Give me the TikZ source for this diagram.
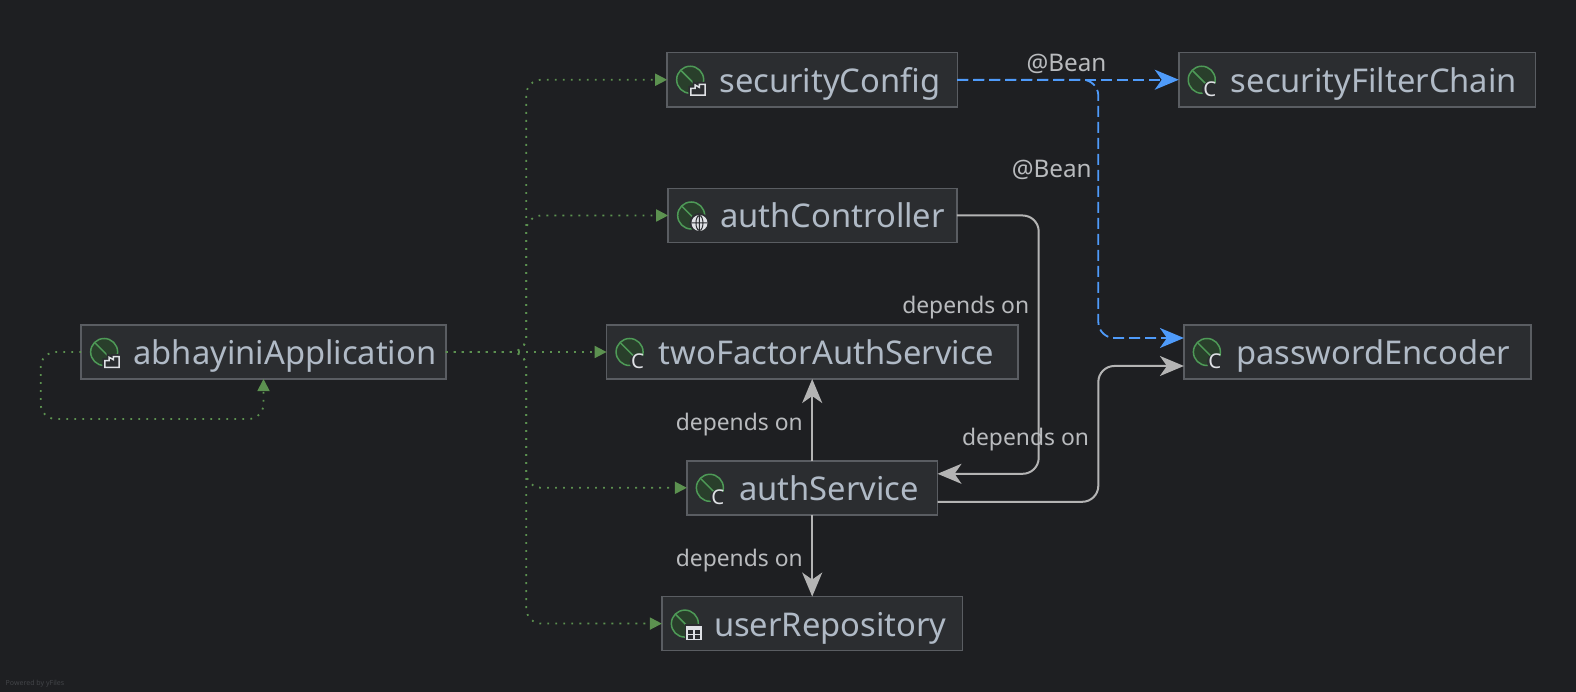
\documentclass[tikz,border=0pt]{standalone}
\usepackage{fontspec}
\setmainfont{Noto Sans}
\usetikzlibrary{arrows.meta,calc}
\definecolor{ideBack}{HTML}{1E1F22}
\definecolor{ideFill}{HTML}{2B2D30}
\definecolor{ideEdge}{HTML}{5A5D62}
\definecolor{ideText}{HTML}{B0BAC6}
\definecolor{ideLabel}{HTML}{B9BBBE}
\definecolor{ideGray}{HTML}{B4B4B4}
\definecolor{ideBlue}{HTML}{4F9BFA}
\definecolor{ideGreen}{HTML}{5C9150}
\definecolor{ideLeaf}{HTML}{4E9A57}
\definecolor{ideLeafIn}{HTML}{293F2B}
\definecolor{ideBadge}{HTML}{DFE1E5}

\begin{document}
\begin{tikzpicture}[
  x=.01cm,y=-.01cm,
  bean/.style={draw=ideEdge, fill=ideFill, line width=.015cm, outer sep=0pt,
               inner sep=0pt, minimum height=.54cm},
  beantext/.style={anchor=west, inner sep=0pt, text=ideText, text height=.26cm,
                   text depth=.07cm, font=\fontsize{9.3}{11}\selectfont},
  edgelabel/.style={inner sep=0pt, text=ideLabel,
                    font=\fontsize{6.5}{8}\selectfont},
  beanlabel/.style={edgelabel, font=\fontsize{6.9}{8}\selectfont},
  depends/.style={-{Stealth[length=.24cm,width=.2cm,inset=.07cm]},
                  draw=ideGray, line width=.02cm, rounded corners=.16cm},
  atbean/.style={-{Stealth[length=.24cm,width=.2cm,inset=.07cm]},
                 draw=ideBlue, line width=.018cm, rounded corners=.16cm,
                 dash pattern=on .11cm off .05cm},
  wires/.style={-{Triangle[length=.12cm,width=.12cm]}, draw=ideGreen,
                line width=.018cm, rounded corners=.15cm,
                dash pattern=on .018cm off .062cm},
  leaf/.style={draw=ideLeaf, fill=ideLeafIn, line width=.015cm},
  badge/.style={draw=ideBadge, fill=ideFill, line width=.015cm,
                preaction={draw=ideFill, line width=.05cm}},
]
  \path[use as bounding box, fill=ideBack] (0,0) rectangle (1576,692);

  % Beans, with the box first and its name beside the icon.
  \node[bean, minimum width=3.645cm] (app) at (263.5,352) {};
  \node[bean, minimum width=2.9cm] (config) at (812.25,79.75) {};
  \node[bean, minimum width=2.885cm] (controller) at (812.5,215.5) {};
  \node[bean, minimum width=4.11cm] (two) at (812.2,352) {};
  \node[bean, minimum width=2.505cm] (service) at (812.2,487.8) {};
  \node[bean, minimum width=3.005cm] (repo) at (812.2,623.6) {};
  \node[bean, minimum width=3.565cm] (chain) at (1357.1,79.75) {};
  \node[bean, minimum width=3.47cm] (encoder) at (1357.5,352) {};

  \foreach \n/\t in {app/abhayiniApplication,config/securityConfig,
      controller/authController,two/twoFactorAuthService,service/authService,
      repo/userRepository,chain/securityFilterChain,encoder/passwordEncoder} {
    \node[beantext] (\n text) at ($(\n.west)+(51.5,3)$) {\t};
    \begin{scope}[shift={($(\n.west)+(23,0)$)}]
      \draw[leaf] (0,0) circle (13.5);
      \draw[draw=ideLeaf, line width=.015cm] (-9,-9) -- (7.3,7.3);
    \end{scope}
  }

  % Badges on the icons.
  \foreach \n in {app,config} {
    \begin{scope}[shift={($(\n.west)+(23,0)$)}]
      \draw[badge] (.7,15.3) -- (.7,8.7) -- (5,8.7) -- (5,5.3) -- (9.3,7.7) --
        (9.3,4.7) -- (15,4.7) -- (15,15.3) -- cycle;
    \end{scope}
  }
  \foreach \n in {two,service,chain,encoder} {
    \begin{scope}[shift={($(\n.west)+(23,0)$)}]
      \fill[ideFill] (8,10) circle (8);
      \node[inner sep=0pt, text=ideBadge, font=\fontsize{5.8}{7}\selectfont]
        (\n badge) at (8,9.5) {C};
    \end{scope}
  }
  \begin{scope}[shift={($(controller.west)+(23,0)$)}]
    \fill[ideFill] (8.3,7.5) circle (10);
    \fill[ideBadge] (8.3,7.5) circle (8);
    \draw[ideFill, line width=.01cm] (8.3,7.5) ellipse (3.5 and 7.5)
      (.3,7.5) -- (16.3,7.5) (8.3,-.5) -- (8.3,15.5);
  \end{scope}
  \begin{scope}[shift={($(repo.west)+(23,0)$)}]
    \draw[badge] (2.3,3.4) rectangle (16,16);
    \fill[ideBadge] (2.3,3.4) rectangle (16,6.4);
    \draw[ideBadge, line width=.012cm] (9.15,6.4) -- (9.15,16) (2.3,10.9) -- (16,10.9);
  \end{scope}

  % Dotted wiring out of the application.
  \coordinate (trunk) at (526.3,352);
  \foreach \n in {config,controller,service,repo} {
    \draw[wires] (app.east) -- (trunk) -- (trunk |- \n.west) -- (\n.west);
  }
  \draw[wires] (app.east) -- (two.west);
  \coordinate (loop) at (40.7,419);
  \draw[wires] (app.west) -- (loop |- app.west) -- (loop) -- (loop -| app.south)
    -- (app.south);

  % Beans declared by the config.
  \coordinate (beanleg) at (1098.3,352);
  \coordinate (encbean) at ($(encoder.west)+(0,-14)$);
  \draw[atbean] (config.east) -- (chain.west);
  \draw[atbean] (config.east) -- (beanleg |- config.east) -- (beanleg |- encbean)
    -- (encbean);

  % Injected dependencies.
  \coordinate (ctrlleg) at (1038.7,352);
  \coordinate (servicein) at ($(service.east)+(0,-14)$);
  \coordinate (serviceout) at ($(service.east)+(0,14)$);
  \coordinate (encin) at ($(encoder.west)+(0,14)$);
  \draw[depends] (controller.east) -- (ctrlleg |- controller.east) --
    (ctrlleg |- servicein) -- (servicein);
  \draw[depends] (serviceout) -- (beanleg |- serviceout) -- (beanleg |- encin)
    -- (encin);
  \draw[depends] (service.north) -- (two.south);
  \draw[depends] (service.south) -- (repo.north);

  \node[beanlabel] (beanone) at (1066.5,64) {@Bean};
  \node[beanlabel] (beantwo) at (1051.7,169.5) {@Bean};
  \node[edgelabel] (dependsone) at (965.7,307.5) {depends on};
  \node[edgelabel] (dependstwo) at (739.3,425) {depends on};
  \node[edgelabel] (dependsthree) at (1025.5,439.5) {depends on};
  \node[edgelabel] (dependsfour) at (739.3,561) {depends on};

  \node[anchor=west, inner sep=0pt, text=ideEdge!60!ideBack,
        font=\fontsize{2}{2.4}\selectfont] (yfiles) at (5,684) {Powered by yFiles};
\end{tikzpicture}
\end{document}
